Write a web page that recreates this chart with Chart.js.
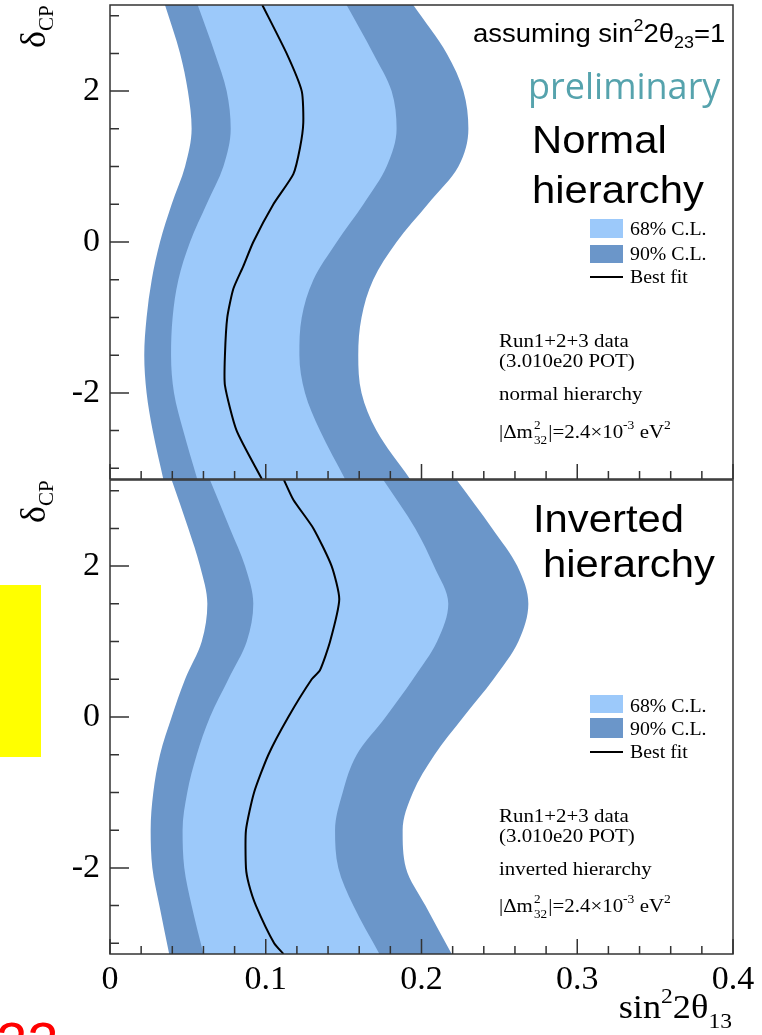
<!DOCTYPE html>
<html>
<head>
<meta charset="utf-8">
<script src="https://cdn.jsdelivr.net/npm/chart.js@4.4.0/dist/chart.umd.min.js"></script>
<style>
html, body { margin: 0; padding: 0; background: #fff; }
body { position: relative; width: 762px; height: 1035px; overflow: hidden; }
canvas { position: absolute; left: 0; }
#topChart { top: 0; }
#botChart { top: 470px; }
.t { position: absolute; white-space: nowrap; line-height: 1; color: #000; }
.serif { font-family: "Liberation Serif", "Times New Roman", serif; }
.sans { font-family: "Liberation Sans", Arial, sans-serif; }
.sx { transform: scaleX(1.1); transform-origin: 0 0; }
.sup { font-size: 65%; position: relative; top: -0.7em; }
.sub { font-size: 65%; position: relative; top: 0.35em; }
.sw { position: absolute; left: 590px; width: 33px; }
.stk { display: inline-block; position: relative; width: 14px; height: 0; }
.stk span { position: absolute; left: 1px; font-size: 12px; }
.ylab { font-size: 36px; transform: rotate(-90deg); transform-origin: 0 0; }
.ylab .s { font-size: 21px; position: relative; top: 8px; }
</style>
</head>
<body>
<canvas id="topChart" width="762" height="480"></canvas>
<canvas id="botChart" width="762" height="565"></canvas>

<!-- y axis titles -->
<div class="t serif ylab" style="left:15px;top:48px">δ<span class="s">CP</span></div>
<div class="t serif ylab" style="left:15px;top:523px">δ<span class="s">CP</span></div>
<!-- x axis title -->
<div class="t serif" style="right:30px;top:991px;font-size:33px;transform:scaleX(1.1);transform-origin:100% 0">sin<span class="sup">2</span>2θ<span class="sub" style="top:0.45em">13</span></div>

<!-- top panel annotations -->
<div class="t sans sx" style="left:473px;top:21px;font-size:25px">assuming sin<span class="sup">2</span>2θ<span class="sub">23</span>=1</div>
<div class="t" style="left:528px;top:68px;font-size:36px;font-family:'Open Sans',sans-serif;color:#56a3ad">preliminary</div>
<div class="t sans sx" style="left:532px;top:121px;font-size:38px">Normal</div>
<div class="t sans sx" style="left:532px;top:171px;font-size:38px">hierarchy</div>
<div class="sw" style="top:219px;height:19px;background:#9cc9fa"></div>
<div class="sw" style="top:245px;height:18px;background:#6b96c9"></div>
<div class="sw" style="top:276px;height:2px;background:#000"></div>
<div class="t serif sx" style="left:630px;top:220px;font-size:18px">68% C.L.</div>
<div class="t serif sx" style="left:630px;top:245px;font-size:18px">90% C.L.</div>
<div class="t serif sx" style="left:630px;top:268px;font-size:18px">Best fit</div>
<div class="t serif sx" style="left:499px;top:331px;font-size:19px">Run1+2+3 data</div>
<div class="t serif sx" style="left:499px;top:351px;font-size:19px">(3.010e20 POT)</div>
<div class="t serif sx" style="left:499px;top:384px;font-size:19px">normal hierarchy</div>
<div class="t serif sx" style="left:499px;top:422px;font-size:19px">|Δm<span class="stk"><span style="top:-19px">2</span><span style="top:-4px">32</span></span>|=2.4×10<span class="sup">-3</span> eV<span class="sup">2</span></div>

<!-- bottom panel annotations -->
<div class="t sans sx" style="left:533px;top:500px;font-size:38px">Inverted</div>
<div class="t sans sx" style="left:543px;top:545px;font-size:38px">hierarchy</div>
<div class="sw" style="top:695px;height:18px;background:#9cc9fa"></div>
<div class="sw" style="top:718px;height:20px;background:#6b96c9"></div>
<div class="sw" style="top:751px;height:2px;background:#000"></div>
<div class="t serif sx" style="left:630px;top:697px;font-size:18px">68% C.L.</div>
<div class="t serif sx" style="left:630px;top:720px;font-size:18px">90% C.L.</div>
<div class="t serif sx" style="left:630px;top:743px;font-size:18px">Best fit</div>
<div class="t serif sx" style="left:499px;top:806px;font-size:19px">Run1+2+3 data</div>
<div class="t serif sx" style="left:499px;top:826px;font-size:19px">(3.010e20 POT)</div>
<div class="t serif sx" style="left:499px;top:859px;font-size:19px">inverted hierarchy</div>
<div class="t serif sx" style="left:499px;top:896px;font-size:19px">|Δm<span class="stk"><span style="top:-19px">2</span><span style="top:-4px">32</span></span>|=2.4×10<span class="sup">-3</span> eV<span class="sup">2</span></div>

<!-- slide leftovers -->
<div style="position:absolute;left:0;top:585px;width:41px;height:172px;background:#ffff00"></div>
<div class="t sans" style="left:-4px;top:1014px;font-size:56px;color:#ff0000">22</div>

<script>
// ---- data ----
// delta_CP sample points shared by the contour edges
const deltaGrid = [-3.1416, -2.5, -2, -1.5, -1, -0.5, 0, 0.5, 1, 1.5, 2, 2.5, 3.1416];

// normal hierarchy: sin^2 2theta13 of the contour edges
const nhOuterLow  = [0.0342, 0.0274, 0.0235, 0.0220, 0.0235, 0.0268, 0.0321, 0.0396, 0.0482, 0.0524, 0.0500, 0.0450, 0.0353];
const nhInnerLow  = [0.0560, 0.0470, 0.0411, 0.0392, 0.0402, 0.0439, 0.0514, 0.0620, 0.0728, 0.0775, 0.0749, 0.0674, 0.0563];
const nhInnerHigh = [0.1509, 0.1348, 0.1252, 0.1216, 0.1231, 0.1306, 0.1456, 0.1627, 0.1776, 0.1840, 0.1808, 0.1690, 0.1519];
const nhOuterHigh = [0.1926, 0.1711, 0.1615, 0.1594, 0.1615, 0.1690, 0.1840, 0.2040, 0.2237, 0.2301, 0.2269, 0.2162, 0.1947];
const nhBestDelta = [-3.1416, -2.5, -1.9, -1.5, -1.0, -0.62, -0.32, 0, 0.5, 0.9, 1.25, 1.58, 2.0, 2.5, 3.1416];
const nhBest      = [0.0975, 0.0813, 0.0738, 0.0738, 0.0753, 0.0792, 0.0856, 0.0920, 0.1049, 0.1177, 0.1220, 0.1241, 0.1231, 0.1134, 0.0978];

// inverted hierarchy
const ihOuterLow  = [0.0380, 0.0317, 0.0272, 0.0261, 0.0278, 0.0321, 0.0396, 0.0482, 0.0589, 0.0625, 0.0578, 0.0503, 0.0396];
const ihInnerLow  = [0.0600, 0.0524, 0.0477, 0.0466, 0.0496, 0.0557, 0.0642, 0.0760, 0.0878, 0.0920, 0.0867, 0.0770, 0.0642];
const ihInnerHigh = [0.1730, 0.1562, 0.1466, 0.1445, 0.1494, 0.1584, 0.1770, 0.1945, 0.2100, 0.2172, 0.2080, 0.1960, 0.1755];
const ihOuterHigh = [0.2194, 0.2025, 0.1900, 0.1879, 0.1945, 0.2084, 0.2269, 0.2462, 0.2622, 0.2686, 0.2615, 0.2454, 0.2226];
const ihBestDelta = [-3.1416, -3.0, -2.5, -2.22, -2.0, -1.5, -1.0, -0.5, 0, 0.5, 0.62, 1.0, 1.56, 2.0, 2.5, 2.88, 3.1416];
const ihBest      = [0.1114, 0.1054, 0.0937, 0.0892, 0.0873, 0.0873, 0.0925, 0.1017, 0.1145, 0.1295, 0.1348, 0.1413, 0.1472, 0.1423, 0.1306, 0.1177, 0.1117];

// axes
const xRange = [0, 0.4];
const yRange = [-3.14159, 3.14159];
const xMinorTicks = [0, 0.02, 0.04, 0.06, 0.08, 0.1, 0.12, 0.14, 0.16, 0.18, 0.2, 0.22, 0.24, 0.26, 0.28, 0.3, 0.32, 0.34, 0.36, 0.38, 0.4];
const xMajorTicks = [0, 0.1, 0.2, 0.3, 0.4];
const yMinorTicks = [-3, -2.5, -2, -1.5, -1, -0.5, 0, 0.5, 1, 1.5, 2, 2.5, 3];
const yMajorTicks = [-2, 0, 2];

const LIGHT = '#9cc9fa';
const DARK = '#6b96c9';
const NONE = 'rgba(0,0,0,0)';

function pts(xs, ds) {
    return xs.map((v, i) => ({ x: v, y: ds[i] }));
}

// frame + inward ROOT-style ticks
const frameTicks = {
    id: 'frameTicks',
    afterDatasetsDraw(chart) {
        const { ctx, chartArea: a, scales: { x, y } } = chart;
        ctx.save();
        ctx.strokeStyle = '#333';
        ctx.lineWidth = 1.5;
        ctx.beginPath();
        for (const v of yMinorTicks) {
            const py = y.getPixelForValue(v);
            const len = yMajorTicks.includes(v) ? 19 : 9;
            ctx.moveTo(a.left, py);
            ctx.lineTo(a.left + len, py);
        }
        for (const v of xMinorTicks) {
            const px = x.getPixelForValue(v);
            const len = xMajorTicks.includes(v) ? 15 : 8;
            ctx.moveTo(px, a.bottom);
            ctx.lineTo(px, a.bottom - len);
        }
        ctx.stroke();
        ctx.strokeRect(a.left, a.top, a.right - a.left, a.bottom - a.top);
        ctx.restore();
    }
};

function bandDatasets(outerLow, innerLow, innerHigh, outerHigh, best, bestDelta) {
    const edge = { borderColor: NONE, borderWidth: 0, pointRadius: 0, cubicInterpolationMode: 'monotone' };
    return [
        { label: 'Best fit', data: pts(best, bestDelta), borderColor: '#000', borderWidth: 2,
          pointRadius: 0, fill: false, tension: 0.2, order: 0 },
        { ...edge, label: '68% C.L.', data: pts(innerLow, deltaGrid), backgroundColor: LIGHT, fill: '+1', order: 1 },
        { ...edge, label: '68 hi', data: pts(innerHigh, deltaGrid), fill: false, order: 1 },
        { ...edge, label: '90% C.L.', data: pts(outerLow, deltaGrid), backgroundColor: DARK, fill: '+1', order: 2 },
        { ...edge, label: '90 hi', data: pts(outerHigh, deltaGrid), fill: false, order: 2 }
    ];
}

function makeChart(id, datasets, showX, padding, xHeight) {
    return new Chart(document.getElementById(id), {
        type: 'line',
        data: { datasets: datasets },
        plugins: [frameTicks],
        options: {
            indexAxis: 'y',
            responsive: false,
            animation: false,
            devicePixelRatio: 1,
            layout: { padding: padding },
            plugins: { legend: { display: false }, tooltip: { enabled: false } },
            scales: {
                x: {
                    type: 'linear', position: 'bottom', display: showX,
                    min: xRange[0], max: xRange[1],
                    grid: { display: false, drawTicks: false },
                    border: { display: false },
                    ticks: {
                        stepSize: 0.1, autoSkip: false, maxRotation: 0, padding: 6,
                        color: '#000', font: { family: 'Liberation Serif', size: 34 },
                        callback: v => (v === 0 ? '0' : v.toFixed(1))
                    },
                    afterFit(s) { s.height = xHeight; s.paddingLeft = 0; s.paddingRight = 0; }
                },
                y: {
                    type: 'linear', position: 'left',
                    min: yRange[0], max: yRange[1],
                    grid: { display: false, drawTicks: false },
                    border: { display: false },
                    ticks: {
                        stepSize: 2, includeBounds: false, padding: 10,
                        color: '#000', font: { family: 'Liberation Serif', size: 34 }
                    },
                    afterFit(s) { s.width = 110; s.paddingTop = 0; s.paddingBottom = 0; }
                }
            }
        }
    });
}

makeChart('topChart',
    bandDatasets(nhOuterLow, nhInnerLow, nhInnerHigh, nhOuterHigh, nhBest, nhBestDelta),
    false, { top: 5, right: 29, bottom: 1, left: 0 }, 0);

makeChart('botChart',
    bandDatasets(ihOuterLow, ihInnerLow, ihInnerHigh, ihOuterHigh, ihBest, ihBestDelta),
    true, { top: 10, right: 29, bottom: 0, left: 0 }, 81);
</script>
</body>
</html>
